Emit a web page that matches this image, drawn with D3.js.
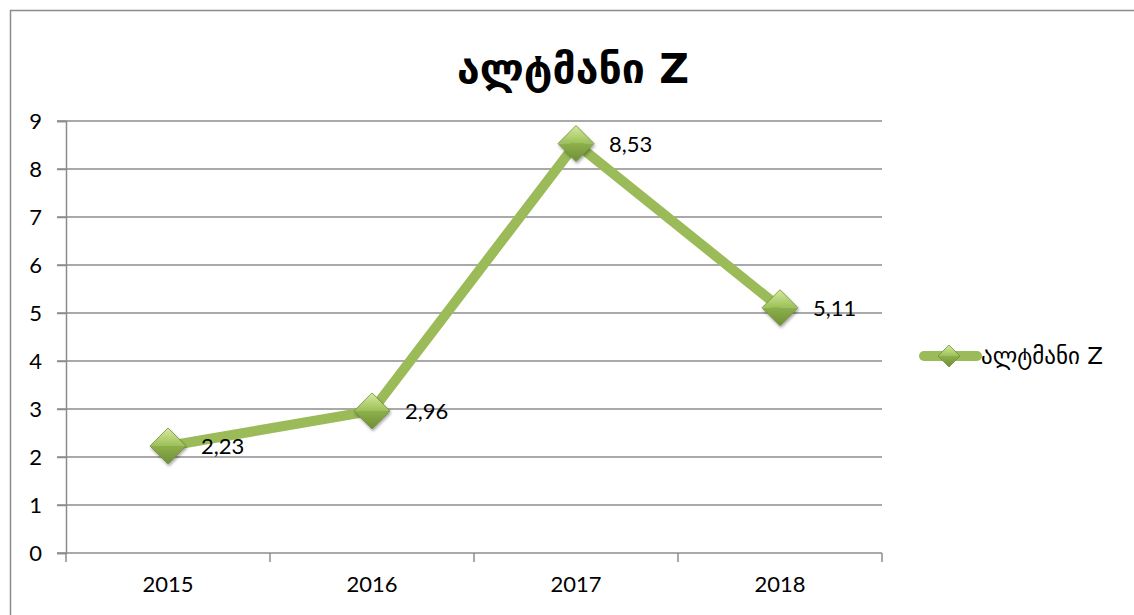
<!DOCTYPE html>
<html lang="ka">
<head>
  <meta charset="UTF-8">
  <title>ალტმანი Z</title>
</head>
<body>
<style>
  * {
    padding: 0;
    margin: 0;
  }

  #app {
    width: 1134px;
    height: 615px;
    overflow: hidden;
    background: #fff;
  }

  #app svg {
    display: block;
  }
</style>

<div id="app"></div>

<script src="https://cdn.jsdelivr.net/npm/d3@7/dist/d3.min.js"></script>
<script>
  var years = ['2015', '2016', '2017', '2018'];
  var altmanZ = [2.23, 2.96, 8.53, 5.11];
  var yTicks = [0, 1, 2, 3, 4, 5, 6, 7, 8, 9];
  var seriesName = 'ალტმანი Z';

  var W = 1134, H = 615;
  var plot = {left: 66, right: 882, top: 121, bottom: 553};
  var latin = 'Lato, "Open Sans", sans-serif';
  var georgian = '"DejaVu Sans", sans-serif';

  var svg = d3.select('#app').append('svg')
    .attr('width', W).attr('height', H);

  // gradient for diamond markers
  var defs = svg.append('defs');
  var gTop = defs.append('linearGradient').attr('id', 'dTop')
    .attr('x1', 0).attr('y1', 0).attr('x2', 0).attr('y2', 1);
  gTop.append('stop').attr('offset', '0%').attr('stop-color', '#d7eaa0');
  gTop.append('stop').attr('offset', '100%').attr('stop-color', '#9cc057');
  var gBot = defs.append('linearGradient').attr('id', 'dBot')
    .attr('x1', 0).attr('y1', 0).attr('x2', 0).attr('y2', 1);
  gBot.append('stop').attr('offset', '0%').attr('stop-color', '#8db04c');
  gBot.append('stop').attr('offset', '100%').attr('stop-color', '#6f8f35');
  var shadow = defs.append('filter').attr('id', 'shd')
    .attr('x', '-50%').attr('y', '-50%').attr('width', '200%').attr('height', '200%');
  shadow.append('feDropShadow').attr('dx', 1).attr('dy', 2).attr('stdDeviation', 1.5)
    .attr('flood-color', '#000').attr('flood-opacity', 0.35);

  // outer chart border
  svg.append('rect')
    .attr('x', 10.5).attr('y', 10.5).attr('width', 1130).attr('height', 620)
    .attr('fill', 'none').attr('stroke', '#8c8c8c').attr('stroke-width', 1.5);

  svg.append('text')
    .attr('x', 573).attr('y', 83)
    .attr('text-anchor', 'middle')
    .style('font-family', georgian).style('font-weight', 'bold').style('font-size', '41px')
    .text(seriesName);

  var x = d3.scaleBand().domain(years).range([plot.left, plot.right]);
  var y = d3.scaleLinear().domain([0, 9]).range([plot.bottom, plot.top]);

  // gridlines
  svg.append('g')
    .selectAll('line').data(yTicks.filter(d => d > 0)).join('line')
    .attr('x1', plot.left - 9).attr('x2', plot.right)
    .attr('y1', d => y(d)).attr('y2', d => y(d))
    .attr('stroke', '#8c8c8c').attr('stroke-width', 1.5);

  // y axis
  var yAxis = svg.append('g')
    .attr('transform', 'translate(' + plot.left + ',0)')
    .call(d3.axisLeft(y).tickValues(yTicks).tickSize(9).tickPadding(15));
  yAxis.select('.domain').attr('stroke', '#8c8c8c').attr('stroke-width', 1.5);
  yAxis.selectAll('.tick line').attr('stroke', '#8c8c8c').attr('stroke-width', 1.5);
  yAxis.selectAll('.tick text')
    .attr('dy', '0.36em')
    .style('font-family', latin).style('font-size', '22px').style('fill', '#000');

  // x axis
  var xAxis = svg.append('g')
    .attr('transform', 'translate(0,' + plot.bottom + ')')
    .call(d3.axisBottom(x).tickSize(0).tickPadding(23));
  xAxis.select('.domain').attr('d', 'M' + (plot.left - 9) + ',0H' + plot.right)
    .attr('stroke', '#8c8c8c').attr('stroke-width', 1.5);
  xAxis.selectAll('.tick text')
    .style('font-family', latin).style('font-size', '22px').style('fill', '#000');
  xAxis.selectAll('.sep').data(years.concat(['end'])).join('line')
    .attr('class', 'sep')
    .attr('x1', (d, i) => plot.left + i * x.step()).attr('x2', (d, i) => plot.left + i * x.step())
    .attr('y1', 0).attr('y2', 9)
    .attr('stroke', '#8c8c8c').attr('stroke-width', 1.5);

  var cx = (d, i) => x(years[i]) + x.bandwidth() / 2;

  // series line
  svg.append('path')
    .datum(altmanZ)
    .attr('fill', 'none').attr('stroke', '#9bbb59').attr('stroke-width', 10)
    .attr('stroke-linejoin', 'round')
    .attr('d', d3.line().x(cx).y(d => y(d)));

  function diamond(g, r) {
    g.append('path')
      .attr('d', 'M' + (-r) + ',0L0,' + (-r) + 'L' + r + ',0Z')
      .attr('fill', 'url(#dTop)');
    g.append('path')
      .attr('d', 'M' + (-r) + ',0L0,' + r + 'L' + r + ',0Z')
      .attr('fill', 'url(#dBot)');
    g.append('path')
      .attr('d', 'M' + (-r) + ',0L0,' + (-r) + 'L' + r + ',0L0,' + r + 'Z')
      .attr('fill', 'none').attr('stroke', '#6f8f35').attr('stroke-width', 0.8);
  }

  var markers = svg.append('g').selectAll('g').data(altmanZ).join('g')
    .attr('transform', (d, i) => 'translate(' + cx(d, i) + ',' + y(d) + ')')
    .attr('filter', 'url(#shd)');
  markers.each(function () { diamond(d3.select(this), 18); });

  svg.append('g').selectAll('text').data(altmanZ).join('text')
    .attr('x', (d, i) => cx(d, i) + 33)
    .attr('y', d => y(d) + 8)
    .style('font-family', latin).style('font-size', '22px')
    .text(d => d3.format('.2f')(d).replace('.', ','));

  // legend
  var lg = svg.append('g').attr('transform', 'translate(920,356)');
  lg.append('line').attr('x1', 4).attr('x2', 57).attr('y1', 0).attr('y2', 0)
    .attr('stroke', '#9bbb59').attr('stroke-width', 10).attr('stroke-linecap', 'round');
  var lgm = lg.append('g').attr('transform', 'translate(29,0)');
  diamond(lgm, 11);
  lg.append('text').attr('x', 61).attr('y', 8)
    .style('font-family', georgian).style('font-size', '23px')
    .text(seriesName);
</script>

</body>
</html>
